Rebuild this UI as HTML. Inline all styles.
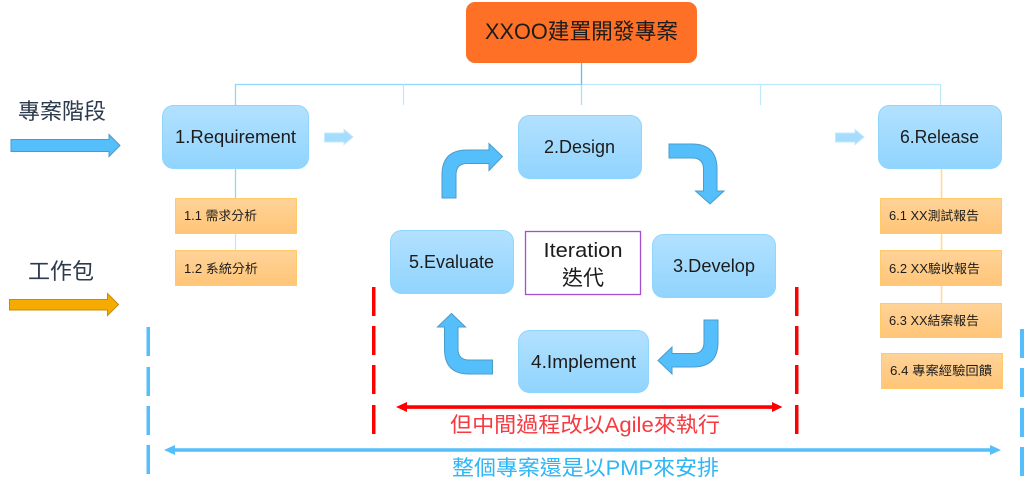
<!DOCTYPE html>
<html>
<head>
<meta charset="utf-8">
<style>
html,body{margin:0;padding:0;background:#fff;width:1024px;height:495px;overflow:hidden}
svg{display:block}
text{font-family:"Liberation Sans","Noto Sans CJK TC",sans-serif;fill:#1c1c1c}
</style>
</head>
<body>
<svg width="1024" height="495" viewBox="0 0 1024 495" xmlns="http://www.w3.org/2000/svg">
<defs>
<linearGradient id="b" x1="0" y1="0" x2="0" y2="1"><stop offset="0" stop-color="#b3e1ff"/><stop offset="1" stop-color="#90d4fe"/></linearGradient>
<linearGradient id="o" x1="0" y1="0" x2="0" y2="1"><stop offset="0" stop-color="#ffd399"/><stop offset="1" stop-color="#ffc577"/></linearGradient>
</defs>

<!-- connectors -->
<g fill="none" stroke-width="1.3">
<path d="M235.5 105V84.5H581.5" stroke="#8fd6fb"/>
<path d="M581.5 84.5H940.5V105" stroke="#bfe8fd"/>
<path d="M403.5 84.5V105M760.5 84.5V105" stroke="#bfe8fd"/>
<path d="M581.5 63V84.5" stroke="#5cc0ee"/>
<path d="M581.5 84.5V105" stroke="#a8dffa"/>
<path d="M235.5 169V198" stroke="#8fd6fb"/>
<path d="M235.5 234V250" stroke="#bfe8fd"/>
<path d="M941.5 169V198M941.5 234V250M941.5 286V303" stroke="#ffdc96" stroke-width="1.6"/>
</g>

<!-- top box -->
<rect x="466" y="2" width="231" height="61" rx="9" fill="#fd7026"/>
<text x="581.5" y="39" font-size="22" text-anchor="middle" textLength="193" lengthAdjust="spacingAndGlyphs">XXOO建置開發專案</text>

<!-- blue boxes -->
<g fill="url(#b)" stroke="#90d5fb" stroke-width="1">
<rect x="162.5" y="105.5" width="146" height="63" rx="11"/>
<rect x="878.5" y="105.5" width="123" height="63" rx="11"/>
<rect x="518.5" y="115.5" width="123" height="63" rx="11"/>
<rect x="390.5" y="230.5" width="123" height="63" rx="11"/>
<rect x="652.5" y="234.5" width="123" height="63" rx="11"/>
<rect x="518.5" y="330.5" width="130" height="62" rx="11"/>
</g>
<g font-size="18">
<text x="175" y="143" textLength="121" lengthAdjust="spacingAndGlyphs">1.Requirement</text>
<text x="900" y="143" textLength="79" lengthAdjust="spacingAndGlyphs">6.Release</text>
<text x="544" y="153" textLength="71" lengthAdjust="spacingAndGlyphs">2.Design</text>
<text x="409" y="268" textLength="85" lengthAdjust="spacingAndGlyphs">5.Evaluate</text>
<text x="673" y="272" textLength="82" lengthAdjust="spacingAndGlyphs">3.Develop</text>
<text x="531" y="368" textLength="105" lengthAdjust="spacingAndGlyphs">4.Implement</text>
</g>

<!-- iteration -->
<rect x="525.5" y="231.5" width="115" height="63" fill="#fff" stroke="#a34fd0" stroke-width="1.3"/>
<text x="583" y="257" font-size="20" text-anchor="middle" textLength="79" lengthAdjust="spacingAndGlyphs">Iteration</text>
<text x="583" y="285" font-size="21" text-anchor="middle">迭代</text>

<!-- orange boxes -->
<g fill="url(#o)" stroke="#ffcb6a" stroke-width="1">
<rect x="175.5" y="198.5" width="121" height="35"/>
<rect x="175.5" y="250.5" width="121" height="35"/>
<rect x="880.5" y="198.5" width="121" height="35"/>
<rect x="880.5" y="250.5" width="121" height="35"/>
<rect x="880.5" y="303.5" width="121" height="34"/>
<rect x="881.5" y="353.5" width="121" height="35"/>
</g>
<g font-size="12.5">
<text x="184" y="220" textLength="73" lengthAdjust="spacingAndGlyphs">1.1 需求分析</text>
<text x="184" y="273" textLength="74" lengthAdjust="spacingAndGlyphs">1.2 系統分析</text>
<text x="889" y="220" textLength="90" lengthAdjust="spacingAndGlyphs">6.1 XX測試報告</text>
<text x="889" y="273" textLength="91" lengthAdjust="spacingAndGlyphs">6.2 XX驗收報告</text>
<text x="889" y="325" textLength="90" lengthAdjust="spacingAndGlyphs">6.3 XX結案報告</text>
<text x="890" y="375" textLength="102" lengthAdjust="spacingAndGlyphs">6.4 專案經驗回饋</text>
</g>

<!-- left labels + arrows -->
<text x="18" y="119" font-size="22" style="fill:#2c3a4c" textLength="88">專案階段</text>
<path d="M11 139.5H109V134.5L120 145.5L109 156.5V151.5H11Z" fill="#55bffc" stroke="#4a9ccb" stroke-width="1"/>
<text x="28" y="279" font-size="22" style="fill:#2c3a4c" textLength="66">工作包</text>
<path d="M9.5 299.5H107.5V293.5L118.5 304.5L107.5 315.5V310H9.5Z" fill="#f5ab00" stroke="#c48c10" stroke-width="1"/>

<!-- small arrows -->
<path d="M324.5 133H344V129.5L353 137L344 144.5V142H324.5Z" fill="#a6dcfd" stroke="#c5e8fb" stroke-width="1"/>
<path d="M835.5 133H855V129.5L864 137L855 144.5V142H835.5Z" fill="#a6dcfd" stroke="#c5e8fb" stroke-width="1"/>

<!-- curved arrows -->
<g fill="#55bffc" stroke="#4a9ccb" stroke-width="1">
<path d="M442 198V175Q442 150 467 150H489V143.5L502.5 156.5L489 170.5V163.5H467Q456 163.5 456 175V198Z"/>
<path d="M669 144H692Q717 144 717 169V191H724L710 204L695.5 191H703.5V169Q703.5 158 692 158H669Z"/>
<path d="M718 320V342Q718 367 693 367H672V374L658 360.5L672 347V353.5H693Q704 353.5 704 342V320Z"/>
<path d="M492.5 374H469Q444.5 374 444.5 349V327H437.5L451.5 313.5L465.5 327H458V349Q458 360 469 360H492.5Z"/>
</g>

<!-- dashed -->
<g fill="#ff0000">
<rect x="372" y="287" width="3.5" height="29"/><rect x="372" y="326" width="3.5" height="29"/><rect x="372" y="365" width="3.5" height="29"/><rect x="372" y="405" width="3.5" height="29"/>
<rect x="795" y="287" width="3.5" height="29"/><rect x="795" y="326" width="3.5" height="29"/><rect x="795" y="365" width="3.5" height="29"/><rect x="795" y="405" width="3.5" height="29"/>
<path d="M396 407L407 402V405.2H772V402L782.5 407L772 412V408.9H407V412Z"/>
</g>
<g fill="#55bffc">
<rect x="146.5" y="327" width="3.5" height="29"/><rect x="146.5" y="367" width="3.5" height="29"/><rect x="146.5" y="406" width="3.5" height="29"/><rect x="146.5" y="445" width="3.5" height="29"/>
<rect x="1020" y="329" width="4" height="29"/><rect x="1020" y="368" width="4" height="29"/><rect x="1020" y="408" width="4" height="29"/><rect x="1020" y="447" width="4" height="29"/>
<path d="M164 450L175 445V448.2H990V445L1001 450L990 455V451.8H175V455Z"/>
</g>

<text x="450" y="432" font-size="21" style="fill:#f8393f" textLength="270" lengthAdjust="spacingAndGlyphs">但中間過程改以Agile來執行</text>
<text x="452" y="475" font-size="21" style="fill:#2fb6f4" textLength="267" lengthAdjust="spacingAndGlyphs">整個專案還是以PMP來安排</text>
</svg>
</body>
</html>
